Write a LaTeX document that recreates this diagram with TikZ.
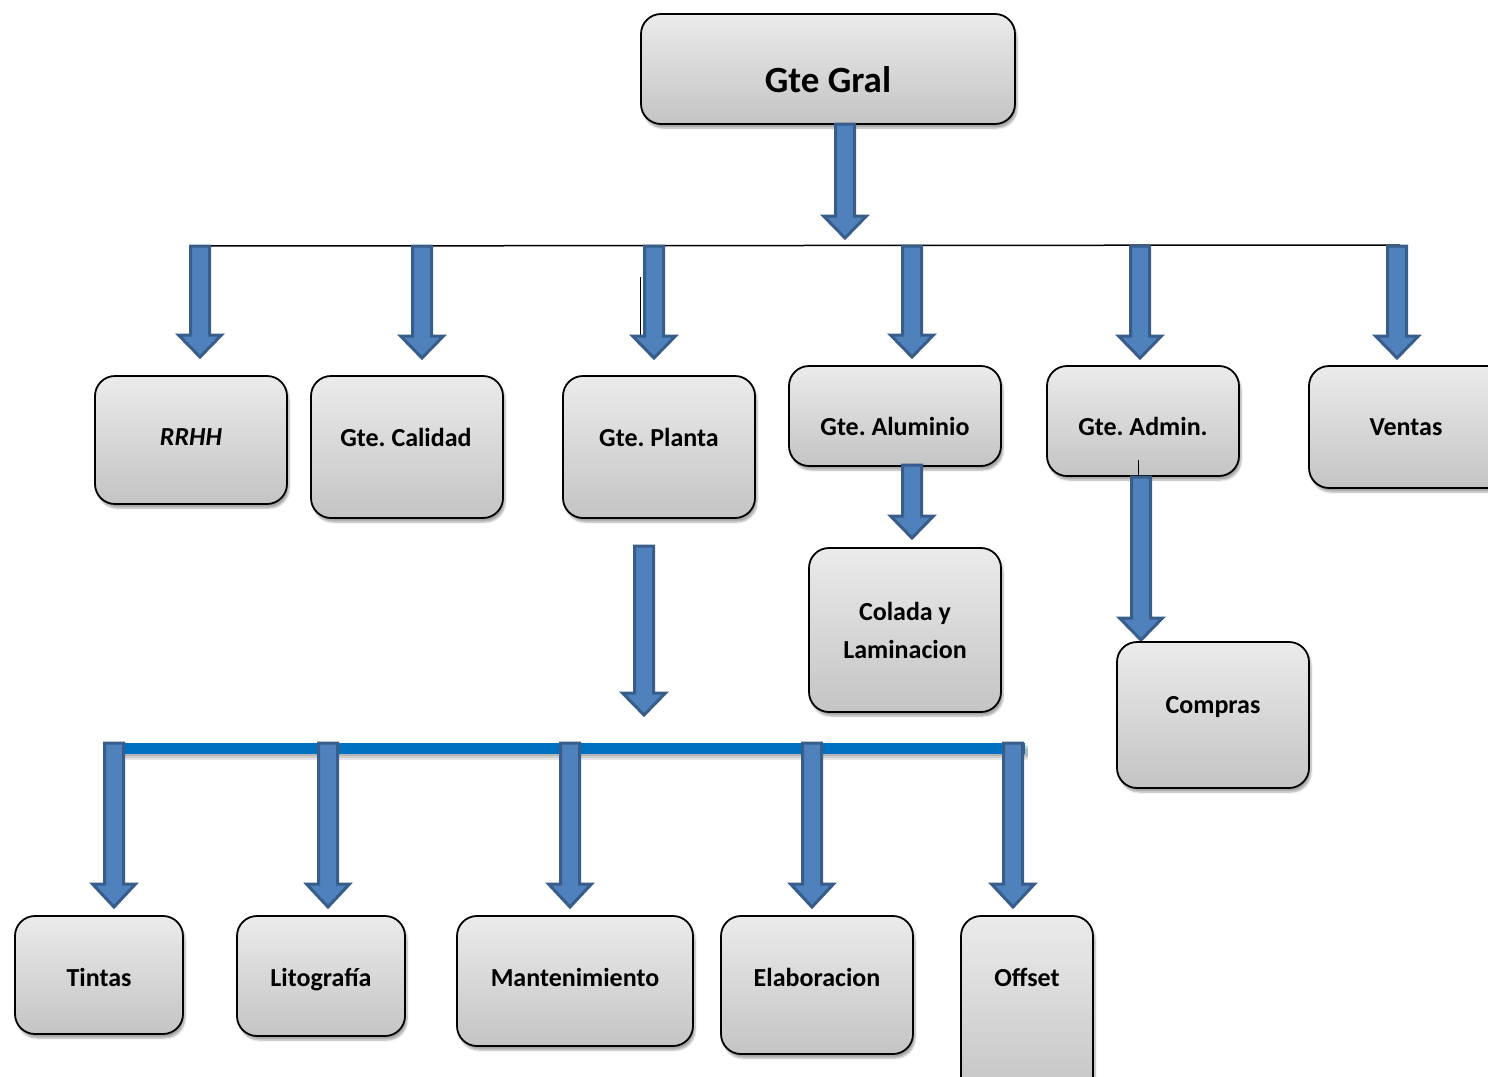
\documentclass[tikz,border=0pt]{standalone}
\usepackage{fontspec}
\setmainfont{Carlito}
\usetikzlibrary{shadows.blur}
\definecolor{arrowfill}{HTML}{4F81BD}
\definecolor{arrowline}{HTML}{385D8A}
\definecolor{boxtop}{HTML}{EBEBEB}
\definecolor{boxbottom}{HTML}{C4C4C4}
\definecolor{barblue}{HTML}{0070C0}
\frenchspacing
\tikzset{
  box/.style={draw=black, line width=1.8pt, rounded corners=20pt,
    top color=boxtop, bottom color=boxbottom,
    blur shadow={shadow xshift=2pt, shadow yshift=-4pt, shadow opacity=35, shadow blur steps=6}},
  lbl/.style={font=\bfseries\fontsize{26}{30}\selectfont, align=center},
  onelbl/.style={lbl, text height=22pt, text depth=4pt},
  blockarrow/.style={fill=arrowfill, draw=arrowline, line width=3pt, line join=miter},
}
% vertical block arrow: centre x, top y, start of head y, tip y
\newcommand\blkarrow[4]{%
  \draw[blockarrow] (#1-9.5,#2) -- (#1+9.5,#2) -- (#1+9.5,#3) -- (#1+21.5,#3)
    -- (#1,#4) -- (#1-21.5,#3) -- (#1-9.5,#3) -- cycle;}
\begin{document}
\begin{tikzpicture}[x=1pt,y=-1pt]
\useasboundingbox (0,0) rectangle (1488,1076);
\clip (0,0) rectangle (1488,1076);

% top level
\path[box] (641,14) rectangle (1015,124);
\node[font=\bfseries\fontsize{37}{42}\selectfont] (gral) at (828,80) {Gte Gral};
\blkarrow{845}{124}{216}{238}

% thin branch line
\draw[line width=1.5pt] (200,246) -- (1400,245);
\draw[line width=1pt] (640,277) -- (640,337);

% second level arrows
\blkarrow{200}{246}{335}{357}
\blkarrow{422}{246}{336}{358}
\blkarrow{654}{246}{336}{358}
\blkarrow{912}{246}{335}{357}
\blkarrow{1140}{246}{336}{358}
\blkarrow{1397}{246}{336}{358}

% second level boxes
\path[box] (95,376) rectangle (287,504);
\node[onelbl, font=\bfseries\itshape\fontsize{26}{30}\selectfont] (rrhh) at (191,436) {RRHH};
\path[box] (311,376) rectangle (503,518);
\node[onelbl] (calidad) at (406,437) {Gte. Calidad};
\path[box] (563,376) rectangle (755,518);
\node[onelbl] (planta) at (659,437) {Gte. Planta};
\path[box] (789,366) rectangle (1001,466);
\node[onelbl] (aluminio) at (895,426) {Gte. Aluminio};
\path[box] (1047,366) rectangle (1239,476);
\node[onelbl] (admin) at (1143,426) {Gte. Admin.};
\draw[line width=1pt] (1138,460) -- (1138,476);
\path[box] (1309,366) rectangle (1520,488);
\node[onelbl] (ventas) at (1406,426) {Ventas};

% aluminio and admin branches
\blkarrow{912}{465}{516}{538}
\path[box] (809,548) rectangle (1001,712);
\node[lbl, font=\bfseries\fontsize{26}{38}\selectfont] (colada) at (905,630) {Colada y\\Laminacion};
\blkarrow{1141}{477}{618}{640}
\path[box] (1117,642) rectangle (1309,788);
\node[onelbl] (compras) at (1213,704) {Compras};

% planta branch
\blkarrow{644}{546}{693}{715}
\foreach \s/\o in {0.10/6,0.10/4,0.12/2}
  \draw[black, opacity=\s, line width=11pt] (103,748+\o) -- (1028,748+\o);
\draw[barblue, line width=11pt] (103,748) -- (1025,748);

% third level arrows
\blkarrow{114}{743}{884}{907}
\blkarrow{328}{743}{884}{907}
\blkarrow{570}{743}{884}{907}
\blkarrow{812}{743}{884}{907}
\blkarrow{1013}{743}{884}{907}

% third level boxes
\path[box] (15,916) rectangle (183,1034);
\node[onelbl] (tintas) at (99,977) {Tintas};
\path[box] (237,916) rectangle (405,1036);
\node[onelbl] (lito) at (321,977) {Litografía};
\path[box] (457,916) rectangle (693,1046);
\node[onelbl] (mant) at (575,977) {Mantenimiento};
\path[box] (721,916) rectangle (913,1054);
\node[onelbl] (elab) at (817,977) {Elaboracion};
\path[box] (961,916) rectangle (1093,1100);
\node[onelbl] (offset) at (1027,977) {Offset};
\end{tikzpicture}
\end{document}
